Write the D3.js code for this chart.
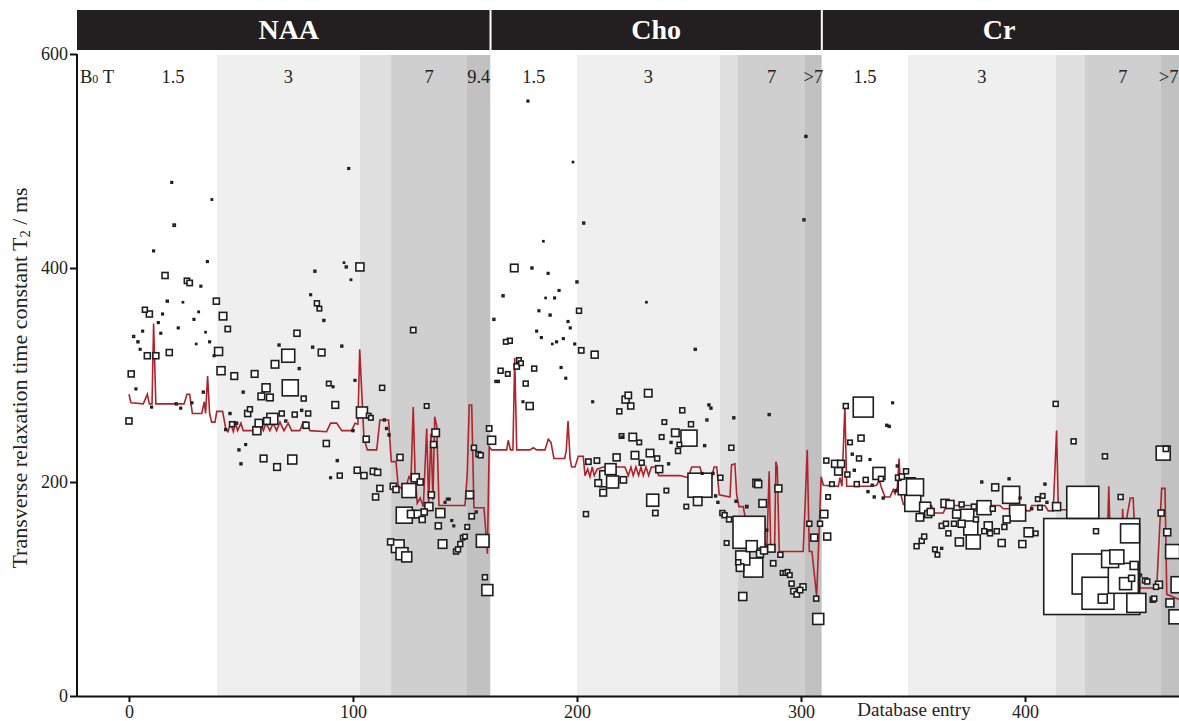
<!DOCTYPE html>
<html>
<head>
<meta charset="utf-8">
<script src="https://cdn.jsdelivr.net/npm/d3@7"></script>
<style>
  body { margin: 0; background: #fff; }
  text { font-family: "Liberation Serif", "DejaVu Serif", serif; }
</style>
</head>
<body>
<script>
// panels (metabolites) and their extent along the database entry axis
var panelNames = ["NAA", "Cho", "Cr"];
var panelStart = [-23.2, 161.4, 309.3];
var panelEnd = [161.4, 309.3, 467.5];

// field strength bands
var bandFrom = [0, 39.3, 103.1, 117, 150.9, 161.4, 200, 263.8, 271.9, 301.8, 309.3, 347.8, 413.8, 426.8, 460.7];
var bandTo = [39.3, 103.1, 117, 150.9, 161.4, 200, 263.8, 271.9, 301.8, 309.3, 347.8, 413.8, 426.8, 460.7, 467.5];
var bandField = ["1.5", "3", "", "7", "9.4", "1.5", "3", "", "7", ">7", "1.5", "3", "", "7", ">7"];

var xTicks = [0, 100, 200, 300, 400];
var yTicks = [0, 200, 400, 600];

// [entry, T2 (ms), weight]
var naaPoints = [
  [0,257,9],[1,301,9],[3.1,287,0.6],[2.1,336,0.8],[4,331,0.8],[6.1,341,0.6],[5,324,0.6],[7.1,361,6],[9.1,357,9],[8.2,318,9],
  [12,318,9],[10.1,270,0.6],[11,416,0.6],[13.1,349,0.6],[14.2,339,0.6],[15,357,0.6],[16.1,393,9],[17.1,369,0.8],[18,321,9],[19.1,480,0.6],
  [20.2,440,1.2],[21.1,273,0.8],[22,344,0.6],[23.1,269,0.6],[24.1,368,0.3],[25.9,388,7],[27.1,386,7],[28.1,274,0.6],[29,352,0.6],[30,329,0.3],
  [31.1,359,0.4],[32.1,383,0.6],[33.2,284,0.8],[34.2,340,0.3],[35,406,0.6],[36,331,0.6],[37,464,0.4],[38,318,0.6],[39,369,9],[40,322,16],
  [41.1,304,16],[42,355,14],[43.2,249,0.8],[44.1,343,7],[45.1,264,0.8],[46,254,6],[47,299,11],[48.1,255,0.8],[49.1,230,0.8],[50,217,0.8],
  [51,284,0.8],[52.1,235,0.6],[53,264,9],[54,268,6],[56.1,301,11],[57.1,248,16],[58,255,14],[59.1,280,11],[60.1,222,11],[61.2,288,16],
  [61.6,257,11],[62.9,279,11],[64,259,30],[65.2,310,14],[66.1,214,11],[67,328,0.8],[68.2,264,6],[70,257,0.8],[71.1,318,42],[72,288,64],
  [72.9,221,20],[74,263,6],[75,339,9],[76,306,0.8],[77.1,267,0.8],[78,278,6],[79,253,9],[80,264,6],[81.1,375,0.6],[82,326,0.8],
  [83,397,0.8],[83.9,367,6],[85,362,5],[86,321,11],[87,351,0.8],[88.1,236,9],[89.2,292,5],[90,204,0.6],[91.1,289,0.6],[92.1,272,11],
  [93,220,0.8],[94.1,206,6],[95,327,0.8],[96,405,0.3],[97,401,0.8],[98.1,493,0.6],[99.1,389,0.4],[100,248,0.8],[100.9,295,0.6],[101.9,211,9],
  [103.1,401,16],[104,265,30],[104.9,206,9],[105.9,240,9],[107,262,5],[108,260,5],[109.1,210,9],[110.1,186,9],[111,209,9],[112,194,9],
  [113,288,6],[114,258,0.8],[115,250,0.8],[116.1,244,0.8],[116.8,144,9],[118,196,9],[119.2,193,9],[120,140,40],[121,223,9],[121.9,133,36],
  [122.9,169,64],[124,130,25],[125,192,49],[126,170,14],[126.9,342,7],[127.8,204,16],[129,170,14],[130,200,9],[130.9,165,9],[131.8,172,9],
  [132.9,271,5],[133.9,177,16],[135,188,9],[136,235,9],[136.9,246,14],[138.1,159,9],[139,171,20],[140,142,18],[141.1,181,0.6],[142.1,184,0.6],
  [143,184,0.6],[144.1,164,0.6],[145,159,0.6],[146,135,6],[146.9,137,6],[147.9,142,6],[149,148,5],[150,149,5],[151,158,5],[152.1,188,14],
  [153,168,7],[154,232,6],[155,172,0.8],[156,226,6],[157,225,6],[157.9,145,40],[158.9,111,6],[160,99,30]
];

var choPoints = [
  [160.8,250,7],[161.9,239,16],[162.9,352,0.8],[163.8,294,0.8],[164.9,294,0.8],[165.9,304,6],[167,374,0.8],[168.2,331,5],[169.1,301,5],[170,332,6],
  [172,400,14],[173.1,308,7],[174.1,314,5],[175,311,5],[175.9,275,0.6],[177.1,292,6],[178.1,556,0.6],[178.9,271,12],[179.9,400,0.8],[180.9,306,6],
  [182,341,0.6],[183,360,0.6],[184.1,335,0.6],[185,425,0.3],[186,372,0.3],[187.1,395,0.6],[188,356,0.8],[189,329,0.3],[190,372,0.6],[190.9,331,0.6],
  [192,379,0.6],[192.9,307,0.6],[193.9,334,0.6],[195,297,0.6],[196,350,0.6],[197,344,0.6],[198.2,499,0.3],[199,329,0.6],[200,387,0.8],[200.9,360,6],
  [201.9,323,7],[203,442,0.8],[204,170,6],[205.1,219,7],[207,275,0.6],[207.9,319,12],[208.9,220,7],[209.5,199,11],[211.7,190,11],[213.7,203,64],
  [215,212,30],[215.9,200,36],[217.7,223,12],[218.9,266,6],[219.9,243,5],[220.1,242,0.8],[220.7,202,10],[221.7,277,12],[222.9,281,10],[224,271,9],
  [224.9,242,14],[225.9,225,14],[227.8,237,5],[228.9,218,6],[231,368,0.3],[231.8,283,14],[232.6,227,14],[233.8,183,36],[235,171,7],[235.8,222,6],
  [236.7,212,12],[237.8,242,5],[239,256,5],[239.9,192,5],[240.9,217,0.8],[242,237,0.8],[243.9,246,14],[245.1,229,6],[245.7,235,5],[247,267,6],
  [248.8,177,5],[250,241,64],[250.9,254,6],[252.8,324,0.8],[253.9,182,18],[254.9,197,144],[255.9,208,0.6],[257,234,0.8],[258,258,0.8],[258.9,272,0.8],
  [259.8,269,0.8],[260.7,208,0.8],[261.9,187,0.8],[262.9,181,0.8],[264,204,6],[264.9,171,6],[265.9,169,6],[266.8,143,5],[267.9,165,6],[268.9,232,6],
  [270,260,0.8],[271,182,0.8],[272,125,6],[272.8,120,14],[274,129,49],[274,93,16],[275.8,177,1.2],[276.8,153,256],[278,140,30],[278.7,120,90],
  [280.2,199,14],[280.9,198,12],[281.7,133,12],[282.9,180,14],[283.5,136,12],[284.7,155,0.8],[285.8,263,0.8],[286.7,138,14],[287.6,124,7],[289.9,194,12],
  [290.8,132,6],[291.8,115,5],[293,115,5],[294,116,5],[295,113,5],[295.8,105,6],[296.6,98,7],[298.1,95,7],[299.6,99,7],[300.9,102,9],
  [301.3,445,0.8],[302.2,523,0.8],[303.7,161,6],[305.9,148,12],[306.8,91,6],[307.7,72,30],[308.5,161,6]
];

var crPoints = [
  [310.3,170,14],[311.3,220,6],[311.7,149,12],[312.1,186,5],[313.8,198,5],[315.2,217,12],[316.7,210,14],[317.9,217,12],[320,271,6],[320.7,207,6],
  [321.9,237,5],[322.9,226,0.8],[323.8,211,0.8],[324.9,198,6],[325.9,222,6],[326.8,241,9],[327.8,270,100],[328.9,202,6],[329.9,191,0.8],[330.8,221,0.6],
  [331.8,197,0.8],[332.7,186,0.8],[334.8,208,36],[335.7,203,6],[336.7,185,0.8],[338.3,253,0.8],[339.4,252,0.8],[340.9,274,0.6],[342.4,192,0.8],[343,215,0.8],
  [343.4,204,7],[345,205,7],[346.9,210,6],[347.2,196,72],[349.9,180,64],[350.9,195,72],[351.6,140,6],[353.1,167,14],[353.9,145,6],[355,149,6],
  [355.4,176,30],[356.8,170,12],[357.9,172,12],[359.8,137,5],[360.9,132,5],[362.8,138,0.8],[362.8,159,6],[364.3,180,16],[364.7,161,6],[365.8,152,6],
  [366.5,179,16],[368.3,161,6],[369.5,170,16],[370.7,144,16],[371.7,179,6],[371.7,161,12],[374,168,49],[375.8,157,49],[376.9,144,49],[377.2,177,6],
  [378.1,165,6],[380.7,200,0.8],[381.7,176,49],[381.8,154,6],[383.6,159,16],[384.4,152,6],[385.6,175,6],[386.7,195,12],[387.4,154,6],[389.6,143,12],
  [390.8,158,6],[391.8,165,12],[392.9,203,0.8],[393.8,188,72],[396.7,171,64],[397.8,185,0.8],[398.8,142,12],[401.6,153,20],[403,175,0.8],[404.8,152,5],
  [405.7,184,5],[406.7,176,5],[407.9,187,5],[408.9,198,0.8],[409.8,181,0.8],[413.7,273,6],[414.1,177,16],[421.7,238,6],[425.8,181,256],[429.8,121,2300],
  [430,114,400],[432.6,96,256],[431.7,154,6],[434.7,91,20],[435.7,224,6],[438,128,72],[441,130,49],[442.7,186,6],[443.9,110,225],[444.9,105,36],
  [446.9,152,90],[447.6,110,9],[448.7,122,16],[449.7,87,90],[451.6,113,0.8],[453.6,108,6],[454.6,107,6],[457,90,6],[457.7,91,6],[458.5,102,6],
  [459.8,104,12],[460.8,171,9],[461.7,227,49],[462.9,231,7],[463.5,153,12],[464.7,87,16],[465.9,135,49],[467.4,74,49],[468.8,104,64]
];

// running estimate (red line), [entry, T2]
var naaLine = [
  [0,282],[0.9,274],[6.4,273],[8.2,282],[9.1,273],[10.3,273],[11,348],[12,273],[24.6,273],[25.9,282],
  [27.1,282],[28.3,264],[32.5,264],[33.6,275],[34.2,264],[35.1,299],[36,264],[36.9,256],[38.4,256],[39.2,266],
  [41.8,266],[43.2,250],[44.2,247],[45.4,255],[46.6,247],[47.6,255],[48.5,248],[50,255],[51,248],[55.5,248],
  [57,255],[58.5,255],[60,248],[61.2,255],[62.9,248],[64.4,255],[65.9,248],[67.4,256],[69.2,248],[71.1,255],
  [72.6,248],[76.3,248],[77.8,256],[79.3,256],[80.8,248],[88.2,247],[90,255],[92.7,255],[95,248],[99.4,248],
  [100.9,255],[102.2,254],[103,324],[104.9,241],[106.4,230],[110.6,230],[112,258],[115.9,258],[117.1,219],[119.2,219],
  [120.2,196],[121.7,194],[123.7,196],[125,205],[125.9,202],[126.9,270],[127.8,202],[128.7,180],[130,185],[131.4,177],
  [132.9,250],[133.8,180],[134.8,245],[135.7,183],[136.5,261],[137.4,252],[138.4,178],[150,178],[151,207],[151.9,272],
  [153,272],[154,176],[158.5,176],[160,133],[160.8,233]
];
var choLine = [
  [161.9,230],[168.6,230],[169.3,239],[170.3,230],[171.4,230],[172.2,316],[173.1,230],[179,230],[180.5,232],[182,230],
  [185.7,230],[187.2,240],[188.4,237],[189.7,222],[194.5,222],[195.2,229],[196,257],[196.9,222],[197.6,214],[199.1,214],
  [200.6,224],[202.8,224],[203.6,206],[204.8,212],[205.8,205],[206.8,214],[207.7,206],[209,212],[211.7,214],[214.7,214],
  [221.4,214],[222.9,206],[224.1,214],[225.1,206],[226.3,214],[227.5,206],[228.6,214],[229.6,206],[230.8,214],[232,206],
  [233.2,214],[235,214],[236.5,206],[241.5,206],[246,206],[249.7,204],[251.2,214],[254.9,214],[256.1,204],[260.1,204],
  [261.2,214],[262.4,214],[263.5,188],[268.3,186],[269,216],[270.5,217],[271.3,188],[272.3,177],[274.2,177],[275,168],
  [278,166],[279.5,143],[283.9,143],[284.7,135],[285.8,210],[286.5,135],[288.2,135],[288.8,219],[289.4,214],[290.3,135],
  [301,135],[302.8,230],[303.7,135],[304.9,135],[307,93],[309,205]
];
var crLine = [
  [310,197],[316.7,196],[317.4,204],[318.3,196],[319.6,272],[320.4,196],[324.9,196],[331.6,196],[333.8,197],[335,202],
  [335.7,196],[337.5,186],[339.7,186],[341.2,193],[342,189],[343,195],[343.8,222],[344.5,189],[345.7,179],[347.2,178],
  [358.3,178],[359.1,171],[363.5,171],[365,178],[376.7,178],[377.7,173],[379.6,173],[380.7,178],[388.8,178],[390.3,175],
  [393.3,175],[394.3,178],[399.2,178],[400.8,173],[402.2,173],[403,178],[408.9,178],[410.4,173],[412.6,173],[414.1,248],
  [414.9,174],[420,174],[424,150],[436.8,150],[437.4,196],[438,150],[443.3,150],[443.6,175],[444,150],[447,185],
  [448.3,185],[449,150],[451.3,101],[458.8,101],[461,194],[462.5,194],[463.3,95],[469,90]
];

var W = 1179, H = 721;
var shade = { "1.5": "#ffffff", "3": "#efefef", "": "#dfdfdf", "7": "#cfcfcf", "9.4": "#c1c1c1", ">7": "#c1c1c1" };

var svg = d3.select("body").append("svg").attr("width", W).attr("height", H);

var x = d3.scaleLinear().domain([-23.2, 468.75]).range([77, W]);
var y = d3.scaleLinear().domain([0, 600]).range([696, 54]);
var side = d3.scaleSqrt().domain([0, 2300]).range([0, 96]);

// background bands
svg.append("g").selectAll("rect")
    .data(bandFrom)
    .enter().append("rect")
    .attr("x", function(d){ return x(d); })
    .attr("y", y(600) + 1)
    .attr("width", function(d, i){ return (i == bandFrom.length - 1 ? W : x(bandTo[i])) - x(d); })
    .attr("height", y(0) - y(600) - 1)
    .attr("fill", function(d, i){ return shade[bandField[i]]; });

// field strength labels
svg.append("g").selectAll("text")
    .data(bandFrom)
    .enter().append("text")
    .attr("x", function(d, i){ return x((d + bandTo[i]) / 2); })
    .attr("y", 83)
    .attr("text-anchor", "middle")
    .attr("font-size", 18.5)
    .attr("fill", "#222")
    .text(function(d, i){ return bandField[i]; });

var b0 = svg.append("text").attr("x", 80).attr("y", 83).attr("font-size", 18.5).attr("fill", "#222");
b0.append("tspan").text("B");
b0.append("tspan").attr("font-size", 12).text("0");
b0.append("tspan").text(" T");

// panel header bars
var head = svg.append("g");
head.selectAll("rect")
    .data(panelNames)
    .enter().append("rect")
    .attr("x", function(d, i){ return x(panelStart[i]) + (i == 0 ? 0 : 1); })
    .attr("y", 10)
    .attr("width", function(d, i){ return (i == panelNames.length - 1 ? W : x(panelEnd[i]) - 1) - x(panelStart[i]) - (i == 0 ? 0 : 1); })
    .attr("height", 40)
    .attr("fill", "#231f20");
head.selectAll("text")
    .data(panelNames)
    .enter().append("text")
    .attr("x", function(d, i){ return x((panelStart[i] + panelEnd[i]) / 2) + (i == 0 ? 5 : 0); })
    .attr("y", 39)
    .attr("text-anchor", "middle")
    .attr("font-size", 28)
    .attr("font-weight", "bold")
    .attr("fill", "#fff")
    .text(function(d){ return d; });

// running estimate
var line = d3.line()
    .x(function(d){ return x(d[0]); })
    .y(function(d){ return y(d[1]); });
svg.append("path")
    .attr("d", line(naaLine.concat(choLine, crLine)))
    .attr("fill", "none")
    .attr("stroke", "#b0232a")
    .attr("stroke-width", 1.6);

// database entries, biggest first so small ones stay visible
var all = naaPoints.concat(choPoints, crPoints).slice().sort(function(a, b){ return b[2] - a[2]; });
svg.append("g").selectAll("rect")
    .data(all)
    .enter().append("rect")
    .attr("x", function(d){ return x(d[0]) - side(d[2]) / 2; })
    .attr("y", function(d){ return y(d[1]) - side(d[2]) / 2; })
    .attr("width", function(d){ return side(d[2]); })
    .attr("height", function(d){ return side(d[2]); })
    .attr("fill", "#fff")
    .attr("stroke", "#1e1e1e")
    .attr("stroke-width", 1.6);

// axes
var xAxis = d3.axisBottom(x).tickValues(xTicks).tickSize(6).tickSizeOuter(0).tickPadding(3);
var yAxis = d3.axisLeft(y).tickValues(yTicks).tickSize(7).tickSizeOuter(0).tickPadding(2);

var gx = svg.append("g").attr("transform", "translate(0," + y(0) + ")").call(xAxis);
var gy = svg.append("g").attr("transform", "translate(" + x.range()[0] + ",0)").call(yAxis);
[gx, gy].forEach(function(g){
  g.selectAll("path, line").attr("stroke", "#111").attr("stroke-width", 2);
  g.selectAll("text").attr("font-family", "Liberation Serif").attr("font-size", 18).attr("fill", "#222");
});
gy.select(".domain").attr("d", "M0," + y(600) + "V" + (y(0) + 1));

svg.append("text")
    .attr("x", 914).attr("y", 716)
    .attr("text-anchor", "middle")
    .attr("font-size", 19)
    .attr("fill", "#222")
    .text("Database entry");

var yt = svg.append("text")
    .attr("transform", "translate(27,378) rotate(-90)")
    .attr("text-anchor", "middle")
    .attr("font-size", 22)
    .attr("fill", "#222");
yt.append("tspan").text("Transverse relaxation time constant T");
yt.append("tspan").attr("font-size", 14.5).attr("dy", 3).text("2");
yt.append("tspan").attr("dy", -3).text(" / ms");
</script>
</body>
</html>
